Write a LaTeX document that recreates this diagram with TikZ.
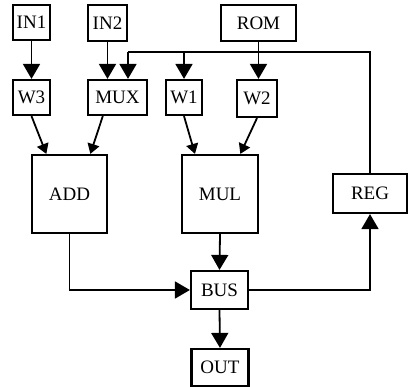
\documentclass[tikz,border=0pt]{standalone}
\usepackage{fontspec}
\setmainfont{Liberation Serif}
\usetikzlibrary{arrows.meta,calc}
\begin{document}
\begin{tikzpicture}[x=1pt,y=-1pt,
  blk/.style={draw,line width=2.2pt,inner sep=0pt,
    font=\fontsize{19}{21}\selectfont},
  wire/.style={line width=1.8pt},
  bigarrow/.style={wire,-{Triangle[width=17pt,length=15pt]}},
  smallarrow/.style={wire,-{Triangle[width=12pt,length=10pt]}}]
\useasboundingbox (0,0) rectangle (408,387);
% top row
\node[blk,minimum width=37pt,minimum height=35pt] (in1) at (31.5,22.5) {IN1};
\node[blk,minimum width=39pt,minimum height=36pt] (in2) at (107.5,23) {IN2};
\node[blk,minimum width=75pt,minimum height=36pt] (rom) at (258.5,23) {ROM};
% weight / mux row
\node[blk,minimum width=37pt,minimum height=35pt] (w3) at (31.5,97.5) {W3};
\node[blk,minimum width=59pt,minimum height=35pt] (mux) at (117.5,97.5) {MUX};
\node[blk,minimum width=36pt,minimum height=35pt] (w1) at (184,97.5) {W1};
\node[blk,minimum width=40pt,minimum height=37pt] (w2) at (257,98.5) {W2};
% operators
\node[blk,minimum width=75pt,minimum height=78pt] (add) at (69.5,194) {ADD};
\node[blk,minimum width=76pt,minimum height=78pt] (mul) at (220,194) {MUL};
\node[blk,minimum width=74pt,minimum height=39pt] (reg) at (370,193.5) {REG};
% bus and output
\node[blk,minimum width=57pt,minimum height=38pt] (bus) at (219.5,290) {BUS};
\node[blk,minimum width=57pt,minimum height=37pt] (out) at (220,367.5) {OUT};

% inputs into the second row
\draw[bigarrow] (in1.south) -- (w3.north);
\draw[bigarrow] (in2.south) -- (in2.south |- mux.north);
\draw[bigarrow] (rom.south) -- (rom.south |- w2.north);

% feedback from the register
\coordinate (fbmux) at (128,52);
\coordinate (fbw1) at (w1.north |- fbmux);
\draw[wire,line width=1.5pt] (reg.north) |- (fbmux);
\draw[bigarrow] (fbmux) -- (fbmux |- mux.north);
\draw[bigarrow] (fbw1) -- (w1.north);

% operands into ADD and MUL
\coordinate (addA) at ($(add.north west)!0.2!(add.north east)$);
\coordinate (addB) at ($(add.north west)!0.77!(add.north east)$);
\coordinate (mulA) at ($(mul.north west)!0.18!(mul.north east)$);
\coordinate (mulB) at ($(mul.north west)!0.76!(mul.north east)$);
\coordinate (muxout) at ($(mux.south west)!0.26!(mux.south east)$);
\draw[smallarrow] (w3.south) -- (addA);
\draw[smallarrow] (muxout) -- (addB);
\draw[smallarrow] (w1.south) -- (mulA);
\draw[smallarrow] (w2.south) -- (mulB);

% results onto the bus
\draw[bigarrow] (add.south) |- (bus.west);
\draw[bigarrow] (mul.south) -- (bus.north);
\draw[bigarrow] (bus.east) -| (reg.south);
\draw[bigarrow] (bus.south) -- (out.north);
\end{tikzpicture}
\end{document}
